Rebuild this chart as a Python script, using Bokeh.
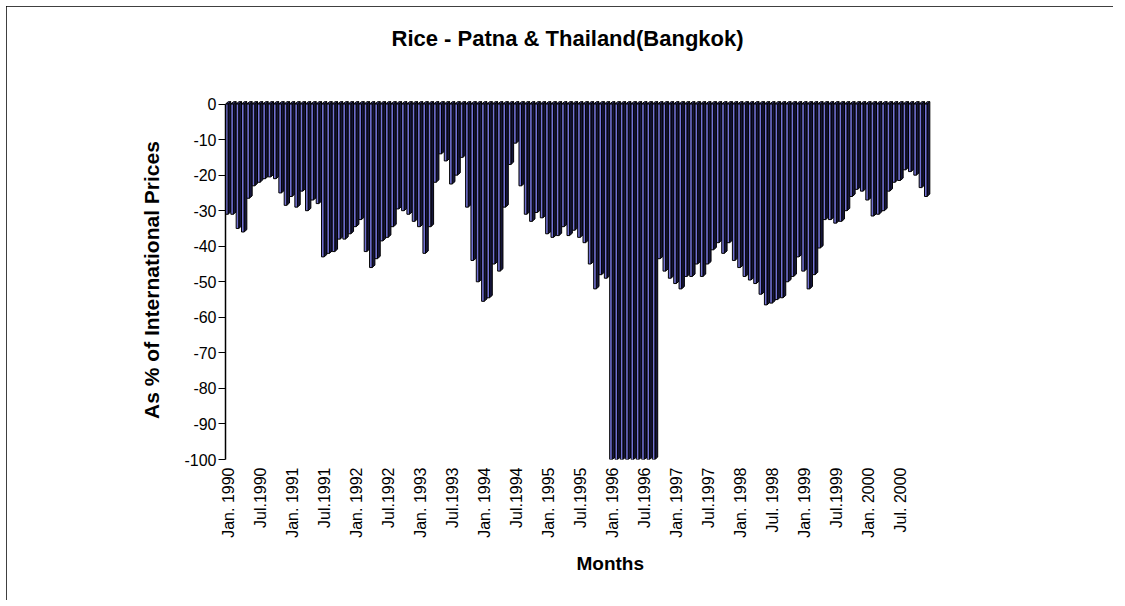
from bokeh.plotting import figure
from bokeh.models import Range1d, FixedTicker, Title
from bokeh.embed import file_html
from bokeh.resources import INLINE
import math

title_text = "Rice - Patna & Thailand(Bangkok)"
y_title = "As % of International Prices"
x_title = "Months"

tick_labels = ["Jan. 1990", "Jul.1990", "Jan. 1991", "Jul.1991", "Jan. 1992", "Jul.1992",
               "Jan. 1993", "Jul.1993", "Jan. 1994", "Jul.1994", "Jan. 1995", "Jul.1995",
               "Jan. 1996", "Jul.1996", "Jan. 1997", "Jul.1997", "Jan. 1998", "Jul. 1998",
               "Jan. 1999", "Jul.1999", "Jan. 2000", "Jul. 2000"]
y_ticks = [0, -10, -20, -30, -40, -50, -60, -70, -80, -90, -100]
y_tick_labels = ["0", "-10", "-20", "-30", "-40", "-50", "-60", "-70", "-80", "-90", "-100"]

v1990 = [-31, -31, -35, -36, -26.5, -23, -22, -21, -20.5, -21, -25, -28.5]
v1991 = [-26, -29, -24.5, -30, -27, -28, -43, -42, -41.5, -38, -38, -36.5]
v1992 = [-34.5, -32.5, -41.5, -46, -43.5, -38.5, -37.5, -34.5, -29.5, -30, -31, -33]
v1993 = [-34.5, -42, -34.5, -22, -14, -16, -22.5, -20, -15, -29, -44, -50]
v1994 = [-55.5, -54.5, -45, -47, -29, -17, -11, -23, -31, -33, -30.5, -32]
v1995 = [-36.5, -37.5, -37, -34.5, -37, -35.5, -37.5, -39, -45, -52, -48, -49]
v1996 = [-100, -100, -100, -100, -100, -100, -100, -100, -100, -43.5, -47, -49]
v1997 = [-50.5, -52, -48.5, -48.5, -45, -48.5, -45, -41, -39, -42, -39, -44]
v1998 = [-46, -48.5, -49.5, -50.5, -53.5, -56.5, -56, -55, -54.5, -50, -48.5, -43]
v1999 = [-47, -52, -48, -40.5, -32.5, -32.5, -33.5, -33, -30, -26, -24, -24.5]
v2000 = [-27, -31.5, -31, -30, -24.5, -22, -21.5, -18.5, -19, -20, -23.5, -26]

values = v1990 + v1991 + v1992 + v1993 + v1994 + v1995 + v1996 + v1997 + v1998 + v1999 + v2000
n = len(values)

FONT = "Liberation Sans"

p = figure(width=1107, height=594, output_backend="svg", toolbar_location=None,
           x_range=Range1d(0, n + 0.5), y_range=Range1d(-100, 1.0),
           min_border_left=219, min_border_right=181, min_border_top=94, min_border_bottom=141)
p.styles = {"margin": "6px 0px 0px 6px", "outline": "1px solid #000000", "outline-offset": "-1px"}
p.background_fill_color = "white"
p.border_fill_color = "white"
p.outline_line_color = None
p.grid.visible = False

# 3D-look bars: front face, side face, top cap
fw = 0.48   # front width (in months)
dx = 0.52   # depth offset in x
dy = 0.67   # depth offset in y (data units)

side_xs, side_ys, top_xs, top_ys = [], [], [], []
for i, v in enumerate(values):
    side_xs.append([i + fw, i + fw + dx, i + fw + dx, i + fw])
    side_ys.append([0, dy, v + dy, v])
    top_xs.append([i, i + fw, i + fw + dx, i + dx])
    top_ys.append([0, 0, dy, dy])

p.patches(side_xs, side_ys, fill_color="#15153a", line_color="black", line_width=1)
p.patches(top_xs, top_ys, fill_color="#3c3c80", line_color="black", line_width=1)
p.quad(left=[i for i in range(n)], right=[i + fw for i in range(n)],
       top=[0] * n, bottom=values, fill_color="#7272d4", line_color="black", line_width=1)

# y axis
yax = p.yaxis[0]
yax.bounds = (-100, 0)
yax.ticker = FixedTicker(ticks=y_ticks)
yax.major_label_overrides = {t: s for t, s in zip(y_ticks, y_tick_labels)}
yax.minor_tick_line_color = None
yax.major_tick_in = 0
yax.major_tick_out = 7
yax.major_tick_line_color = "black"
yax.axis_line_color = "black"
yax.axis_line_width = 1.5
yax.major_label_text_font = FONT
yax.major_label_text_font_size = "16px"
yax.major_label_text_color = "black"
yax.major_label_standoff = 2
yax.axis_label = y_title
yax.axis_label_text_font = FONT
yax.axis_label_text_font_style = "bold"
yax.axis_label_text_font_size = "21px"
yax.axis_label_text_color = "black"
yax.axis_label_standoff = 18

# x axis (category labels every 6 months)
xax = p.xaxis[0]
tick_pos = [0.5 + 6 * k for k in range(len(tick_labels))]
xax.ticker = FixedTicker(ticks=tick_pos)
xax.major_label_overrides = {t: lab for t, lab in zip(tick_pos, tick_labels)}
xax.major_label_orientation = math.pi / 2
xax.axis_line_color = None
xax.major_tick_line_color = None
xax.minor_tick_line_color = None
xax.major_tick_out = 0
xax.major_tick_in = 0
xax.major_label_standoff = 8
xax.major_label_text_font = FONT
xax.major_label_text_font_size = "16px"
xax.major_label_text_color = "black"

# spacer between frame and chart title (keeps the title high, as in the original)
p.add_layout(Title(text=" ", text_font=FONT, text_font_size="30px", standoff=10), "above")
p.add_layout(Title(text=title_text, align="left", offset=166, text_font=FONT,
                   text_font_style="bold", text_font_size="22px", text_color="black"), "above")
p.add_layout(Title(text=x_title, align="left", offset=351, text_font=FONT, standoff=20,
                   text_font_style="bold", text_font_size="19px", text_color="black"), "below")

open("out.html", "w").write(file_html(p, INLINE))
